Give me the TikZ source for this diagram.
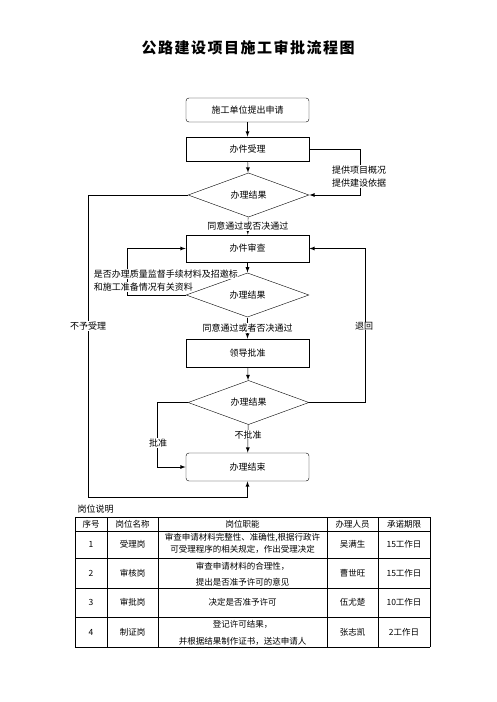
\documentclass[tikz,border=0pt]{standalone}
\usepackage{fontspec}
\setmainfont{Noto Sans CJK SC}
\usetikzlibrary{shapes.geometric}
\begin{document}
\begin{tikzpicture}[x=1pt,y=-1pt]
\tikzset{ >=latex, line width=0.8pt,
  every node/.style={font=\fontsize{9}{13}\selectfont},
  box/.style={draw, minimum width=123pt, minimum height=24pt, inner sep=0pt},
  rbox/.style={box, rounded corners=3pt},
  dia/.style={draw, diamond, minimum width=121pt, minimum height=33pt, inner sep=0pt},
  lab/.style={fill=white, inner sep=0.5pt},
  cell/.style={font=\fontsize{8.5}{12}\selectfont, align=center, inner sep=0pt} }
\useasboundingbox (0,0) rectangle (496,702);
%\draw [lightgray, dashed](0,0) grid (496,702);

\node [font=\fontsize{15}{18}\selectfont\bfseries] (T) at (248,48)
  {\addfontfeature{LetterSpace=10}公路建设项目施工审批流程图};

\node [rbox] (SQ) at (247.5,110) {施工单位提出申请};
\node [box] (SL) at (247.5,149) {办件受理};
\node [dia] (JG1) at (248.5,195) {办理结果};
\node [box, minimum height=27pt] (SC) at (247.5,248.5) {办件审查};
\node [dia, minimum width=123pt, minimum height=34pt] (JG2) at (247.5,295) {办理结果};
\node [box, minimum height=28pt] (PZ) at (247.5,353) {领导批准};
\node [dia] (JG3) at (248.5,402.5) {办理结果};
\node [rbox, minimum height=28pt] (JS) at (247.5,467) {办理结束};

\coordinate (R1) at (360,195);
\coordinate (L1) at (88,497);

\draw [->] (SQ) -- (SL);
\draw [->] (SL) -- (JG1);
\draw [->] (JG1) -- node [lab] (N1) {同意通过或否决通过} (SC);
\draw [->] (SC) -- (JG2);
\draw [->] (JG2) -- node [lab] (N2) {同意通过或者否决通过} (PZ);
\draw [->] (PZ) -- (JG3);
\draw [->] (JG3) -- node [lab, pos=0.35] (N3) {不批准} (JS);

\draw [->] (SL.east) -| (R1) -- (JG1.east);
\node [lab, align=center] (Y1) at (359,176.5) {提供项目概况\\提供建设依据};

\draw [->] (JG1.west) -| (L1) -| (JS.south);
\node [lab] (Y2) at (88,326) {不予受理};

\draw [->] (JG2.west) -- ++(-58,0) |- (SC.west);
\node [lab, anchor=west] (Y3) at (93,274) {是否办理质量监督手续材料及招邀标};
\node [lab, anchor=west] (Y4) at (93,287) {和施工准备情况有关资料};

\draw [->] (JG3.east) -- ++(55.5,0) |- (SC.east);
\node [lab] (Y5) at (364,326) {退回};

\draw [->] (JG3.west) -- ++(-30.5,0) |- (JS.west);
\node [lab] (Y6) at (158,443) {批准};

% table
\node [anchor=west] (GW) at (74,509) {岗位说明};
\foreach \y in {517,531,558,588,617,647}
  \draw [line width=0.7pt] (75,\y) -- (430,\y);
\foreach \x in {75,107,158,327,378,430}
  \draw [line width=0.7pt] (\x,517) -- (\x,647);

\foreach \t/\x [count=\i] in {序号/91, 岗位名称/132.5, 岗位职能/242.5, 办理人员/352.5, 承诺期限/404}
  \node [cell] (h\i) at (\x,524) {\t};

\foreach \n/\g/\p/\d/\y in {1/受理岗/吴满生/15/544.5, 2/审核岗/曹世旺/15/573,
    3/审批岗/伍尤楚/10/602.5, 4/制证岗/张志凯/2/632} {
  \node [cell] (n\n) at (91,\y) {\n};
  \node [cell] (g\n) at (132.5,\y) {\g};
  \node [cell] (p\n) at (352.5,\y) {\p};
  \node [cell] (d\n) at (404,\y) {\d 工作日};
}

\node [cell] (f1) at (242.5,543) {审查申请材料完整性、准确性,根据行政许\\可受理程序的相关规定，作出受理决定};
\node [cell, font=\fontsize{8.5}{16}\selectfont] (f2) at (242.5,574.5) {审查申请材料的合理性，\\提出是否准予许可的意见};
\node [cell] (f3) at (242.5,602.5) {决定是否准予许可};
\node [cell, font=\fontsize{8.5}{17}\selectfont] (f4) at (242.5,632.5) {登记许可结果，\\并根据结果制作证书，送达申请人};

\end{tikzpicture}
\end{document}
